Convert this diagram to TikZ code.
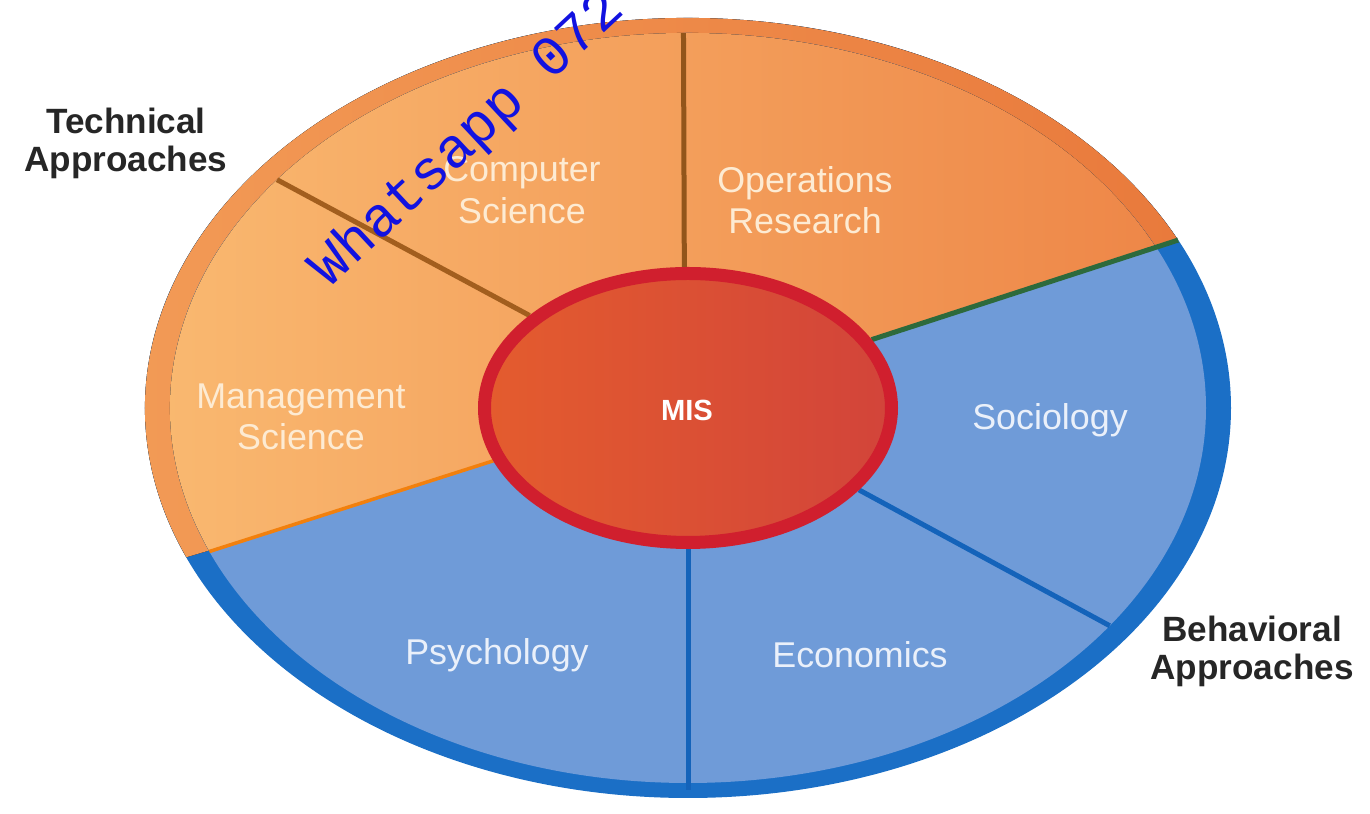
\documentclass[tikz,border=0pt]{standalone}
\usepackage{fontspec}
\setmainfont{Liberation Sans}
\newfontfamily\wmfont{Liberation Mono}
\usepackage{tikz}
\usetikzlibrary{positioning, calc}

\definecolor{rimorL}{HTML}{F39C57}
\definecolor{rimorR}{HTML}{E97A3C}
\definecolor{orL}{HTML}{FABB72}
\definecolor{orR}{HTML}{EE8748}
\definecolor{rimblue}{HTML}{1B6FC6}
\definecolor{lightblue}{HTML}{6F9BD8}
\definecolor{misL}{HTML}{E45C2E}
\definecolor{misR}{HTML}{D2443A}
\definecolor{misrim}{HTML}{D01F2E}
\definecolor{brownline}{HTML}{A25E1E}
\definecolor{greenline}{HTML}{2D6A3C}
\definecolor{blueline}{HTML}{1463BA}
\definecolor{creamtext}{HTML}{FDEBD3}
\definecolor{paletext}{HTML}{EAF0FA}
\definecolor{wmblue}{HTML}{1212E0}

\tikzset{
  seclabel/.style={font=\fontsize{10.2}{11.8}\selectfont, align=center},
  orlabel/.style={seclabel, text=creamtext},
  bllabel/.style={seclabel, text=paletext},
  sidelabel/.style={font=\fontsize{10}{10.8}\selectfont\bfseries, align=center, text=black!85},
  divider/.style={line width=0.5mm}
}

\begin{document}
\begin{tikzpicture}[x=0.1mm, y=0.1mm]
  \useasboundingbox (-688,-406) rectangle (682,408);
  % outer rim
  \fill[rimblue] (0,0) ellipse [x radius=543, y radius=390];
  \fill[left color=rimorL, right color=rimorR]
    (0,0) -- (25.5:543 and 390)
    arc[start angle=25.5, end angle=202.5, x radius=543, y radius=390] -- cycle;
  % inner field
  \fill[lightblue] (0,0) ellipse [x radius=518, y radius=375];
  \fill[left color=orL, right color=orR]
    (29:210 and 141) -- (25.5:518 and 375)
    arc[start angle=25.5, end angle=202.5, x radius=518, y radius=375]
    -- (202:210 and 141) -- (0,0) -- cycle;
  % dividers
  \coordinate (cs-in) at (139:210 and 141);
  \coordinate (cs-out) at (142.5:518 and 375);
  \coordinate (or-in) at (91:210 and 141);
  \coordinate (or-out) at (90.5:518 and 375);
  \coordinate (so-in) at (29:210 and 141);
  \coordinate (so-out) at (25.5:543 and 390);
  \coordinate (ec-in) at (-35.5:210 and 141);
  \coordinate (ec-out) at (-35.5:518 and 375);
  \coordinate (ps-in) at (-90:210 and 141);
  \coordinate (ps-out) at (-90:530 and 382);
  \coordinate (ms-in) at (202:210 and 141);
  \coordinate (ms-out) at (202.5:518 and 375);
  \draw[divider, brownline] (cs-in) -- (cs-out);
  \draw[divider, brownline!90!black] (or-in) -- (or-out);
  \draw[divider, greenline] (so-in) -- (so-out);
  \draw[divider, blueline] (ec-in) -- (ec-out);
  \draw[divider, blueline] (ps-in) -- (ps-out);
  \draw[line width=0.35mm, orange!80!brown] (ms-in) -- (ms-out);
  % centre
  \draw[line width=1.3mm, misrim, left color=misL, right color=misR]
    (0,0) ellipse [x radius=203.5, y radius=134.5];
  \node[font=\fontsize{8.3}{9}\selectfont\bfseries, text=white] (mis) at (-1,-2) {MIS};
  % sector labels
  \node[orlabel] (compsci) at (-166,218) {Computer\\Science};
  \node[orlabel] (opsres) at (117,208) {Operations\\Research};
  \node[orlabel] (mgmtsci) at (-387,-9) {Management\\Science};
  \node[bllabel] (socio) at (362,-12) {Sociology};
  \node[bllabel] (econ) at (172,-247) {Economics};
  \node[bllabel] (psych) at (-191,-247) {Psychology};
  % side labels
  \node[sidelabel] (techlbl) at (-562,265) {Technical\\Approaches};
  \node[sidelabel] (behavlbl) at (564,-243) {Behavioral\\Approaches};
  % watermark
  \node[font=\fontsize{16}{16}\wmfont, text=wmblue, rotate=43] (wmark) at (-220,268) {Whatsapp 072};
\end{tikzpicture}
\end{document}
